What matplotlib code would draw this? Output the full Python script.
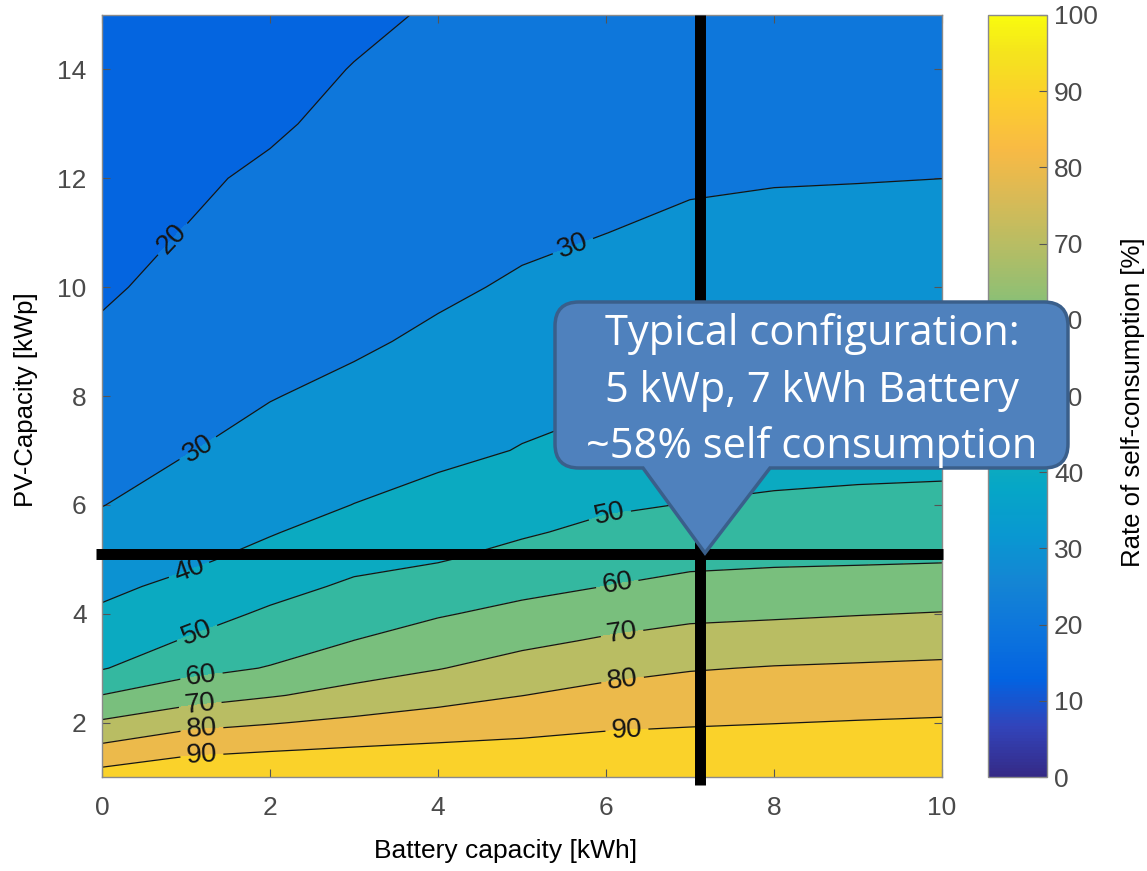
import matplotlib
matplotlib.use("Agg")
import matplotlib.pyplot as plt
from matplotlib.colors import LinearSegmentedColormap, Normalize
from matplotlib.cm import ScalarMappable
from matplotlib.path import Path
from matplotlib.patches import PathPatch

W, H = 1147, 871

# --- data ---
battery = [0, 1, 2, 3, 4, 5, 6, 7, 8, 9, 10]
pv = [1, 1.5, 2, 2.5, 3, 3.5, 4, 4.5, 5, 5.5, 6, 7, 8, 9, 10, 11, 12, 13, 14, 15]
# self-consumption rate [%], one row per pv value, one column per battery value
rate = [
    [94.1, 97.6, 99.0, 99.0, 99.0, 99.0, 99.0, 99.0, 99.0, 99.0, 99.0],
    [82.7, 87.6, 89.4, 90.9, 92.0, 92.7, 93.7, 94.1, 94.5, 95.0, 95.5],
    [71.2, 76.9, 79.4, 82.0, 84.2, 86.3, 88.3, 89.2, 89.8, 90.4, 90.9],
    [60.2, 65.4, 69.3, 73.0, 76.7, 79.9, 82.8, 84.4, 85.1, 85.7, 86.3],
    [49.4, 56.9, 60.5, 66.1, 69.6, 73.8, 77.1, 79.4, 80.5, 81.1, 81.7],
    [45.4, 50.6, 55.8, 60.1, 64.4, 67.9, 71.1, 73.6, 74.6, 75.5, 76.3],
    [41.3, 46.3, 51.3, 55.7, 59.2, 62.5, 65.5, 67.9, 68.7, 69.6, 70.4],
    [38.1, 42.1, 47.1, 51.4, 54.1, 57.5, 60.1, 62.5, 63.3, 63.9, 64.6],
    [35.3, 38.3, 42.9, 47.5, 49.4, 52.9, 56.1, 57.9, 58.6, 58.9, 59.3],
    [32.5, 36.2, 39.4, 43.8, 46.4, 49.0, 52.1, 54.1, 54.9, 55.4, 55.9],
    [29.8, 34.0, 37.3, 40.1, 43.5, 46.1, 48.8, 50.3, 51.3, 51.9, 52.4],
    [27.1, 29.6, 33.3, 36.2, 37.6, 40.4, 43.6, 45.5, 46.3, 46.8, 46.9],
    [24.3, 27.3, 29.6, 32.4, 35.1, 37.2, 38.6, 40.7, 41.8, 42.4, 42.8],
    [21.5, 24.9, 27.5, 28.6, 31.7, 34.2, 36.1, 37.5, 37.6, 38.2, 38.5],
    [18.8, 22.6, 25.4, 27.5, 28.4, 31.2, 33.0, 34.6, 35.3, 35.7, 36.0],
    [18.1, 20.2, 23.3, 25.7, 27.4, 28.2, 29.95, 31.7, 32.4, 32.8, 33.0],
    [16.7, 18.8, 21.2, 23.8, 25.7, 27.1, 28.2, 28.9, 29.5, 29.7, 29.98],
    [15.4, 17.5, 19.0, 22.0, 24.0, 25.4, 26.4, 27.4, 27.8, 28.0, 28.1],
    [14.0, 16.1, 18.1, 20.2, 22.3, 23.6, 24.6, 25.5, 25.9, 26.1, 26.3],
    [12.7, 14.8, 16.8, 18.8, 20.6, 21.8, 22.8, 23.6, 24.0, 24.2, 24.4],
]
levels = [0, 10, 20, 30, 40, 50, 60, 70, 80, 90, 100]
line_levels = [20, 30, 40, 50, 60, 70, 80, 90]
x_ticks = [0, 2, 4, 6, 8, 10]
y_ticks = [2, 4, 6, 8, 10, 12, 14]

typical_battery = 7.12
typical_pv = 5.09
callout_lines = ["Typical configuration:", "5 kWp, 7 kWh Battery", "~58% self consumption"]

# where the inline contour labels sit
label_pos = [(0.85, 10.87), (5.61, 10.74), (1.17, 6.97), (1.04, 4.79),
             (1.13, 3.65), (6.05, 5.76), (1.19, 2.78), (6.14, 4.49),
             (1.17, 2.32), (6.19, 3.65), (1.19, 1.86), (6.20, 2.75),
             (1.19, 1.37), (6.25, 1.83)]

# MATLAB parula, sampled
parula_anchors = [
    (0.2081, 0.1663, 0.5292), (0.1959, 0.2645, 0.7279), (0.0117, 0.3875, 0.8820),
    (0.0498, 0.4586, 0.8641), (0.0793, 0.5200, 0.8312), (0.0343, 0.5966, 0.8199),
    (0.0228, 0.6535, 0.7768), (0.0843, 0.6928, 0.7062), (0.2178, 0.7250, 0.6193),
    (0.3953, 0.7459, 0.5244), (0.5709, 0.7485, 0.4494), (0.7184, 0.7411, 0.3905),
    (0.8507, 0.7299, 0.3360), (0.9739, 0.7314, 0.2666), (0.9880, 0.8066, 0.1794),
    (0.9589, 0.8949, 0.1132), (0.9763, 0.9831, 0.0538),
]
stops = [0, 4, 8, 12, 16, 20, 24, 28, 32, 36, 40, 44, 48, 52, 56, 60, 63]
parula = LinearSegmentedColormap.from_list(
    "parula", [(s / 63, c) for s, c in zip(stops, parula_anchors)])
# colormap position used to fill each band
band_shade = [0.0, 0.135, 0.2, 0.3, 0.4, 0.5, 0.6, 0.7, 0.8, 0.9]

plt.rcParams["font.family"] = ["Liberation Sans", "DejaVu Sans"]

fig = plt.figure(figsize=(W / 100, H / 100), dpi=100)
ax = fig.add_axes([102 / W, 1 - 777 / H, 840 / W, 762 / H])

ax.contourf(battery, pv, rate, levels=levels, colors=[parula(s) for s in band_shade])
cs = ax.contour(battery, pv, rate, levels=line_levels, colors="#151515", linewidths=0.9)
ax.clabel(cs, manual=label_pos, fmt="%d", fontsize=20, colors="#151515", inline_spacing=6)

ax.set_xlim(0, 10)
ax.set_ylim(1, 15)
ax.set_xticks(x_ticks)
ax.set_yticks(y_ticks)
ax.tick_params(direction="in", length=6, width=0.8, color="#555555",
               labelcolor="#4a4a4a", labelsize=19, top=True, right=True)
ax.tick_params(axis="x", pad=14)
ax.tick_params(axis="y", pad=11)
for s in ax.spines.values():
    s.set_edgecolor("#8a8a8a")
    s.set_linewidth(1.0)

# crosshair at the typical configuration
ax.plot([-0.071, 10.01], [typical_pv, typical_pv], color="black", lw=7.9,
        solid_capstyle="butt", clip_on=False, zorder=6)
ax.plot([typical_battery, typical_battery], [0.853, 15], color="black", lw=7.9,
        solid_capstyle="butt", clip_on=False, zorder=6)

# colorbar
cax = fig.add_axes([988 / W, 1 - 777 / H, 59 / W, 762 / H])
cb = fig.colorbar(ScalarMappable(norm=Normalize(0, 100), cmap=parula), cax=cax, ticks=levels)
cax.tick_params(direction="in", length=6, width=0.8, color="#555555",
                labelcolor="#4a4a4a", labelsize=19, pad=5)
cb.outline.set_edgecolor("#8a8a8a")
cb.outline.set_linewidth(1.0)

# axis labels
fig.text(506 / W, 1 - 851 / H, "Battery capacity [kWh]", ha="center", va="center", fontsize=19)
fig.text(26 / W, 1 - 400 / H, "PV-Capacity [kWp]", ha="center", va="center",
         rotation=90, fontsize=18.5)
fig.text(1133 / W, 1 - 402 / H, "Rate of self-consumption [%]", ha="center", va="center",
         rotation=90, fontsize=18.5)


# callout box (pixel coordinates, y pointing down)
def fp(px, py):
    return (px / W, 1 - py / H)


L, R, T, B, r = 555, 1068, 302, 468, 24
verts = [fp(L + r, T), fp(R - r, T), fp(R, T), fp(R, T + r), fp(R, B - r), fp(R, B), fp(R - r, B),
         fp(770, B), fp(705, 553), fp(643, B), fp(L + r, B), fp(L, B), fp(L, B - r),
         fp(L, T + r), fp(L, T), fp(L + r, T), fp(L + r, T)]
codes = [Path.MOVETO, Path.LINETO, Path.CURVE3, Path.CURVE3, Path.LINETO, Path.CURVE3, Path.CURVE3,
         Path.LINETO, Path.LINETO, Path.LINETO, Path.LINETO, Path.CURVE3, Path.CURVE3,
         Path.LINETO, Path.CURVE3, Path.CURVE3, Path.CLOSEPOLY]
callout = PathPatch(Path(verts, codes), transform=fig.transFigure, facecolor="#4F81BD",
                    edgecolor="#3A5F8B", lw=2.5, zorder=10)
fig.add_artist(callout)

for line, base in zip(callout_lines, [345, 402, 458]):
    fig.text(812 / W, 1 - base / H, line, ha="center", va="baseline", color="white",
             fontsize=30, family=["Open Sans", "DejaVu Sans"], zorder=11)

fig.savefig("out.png", dpi=100)
